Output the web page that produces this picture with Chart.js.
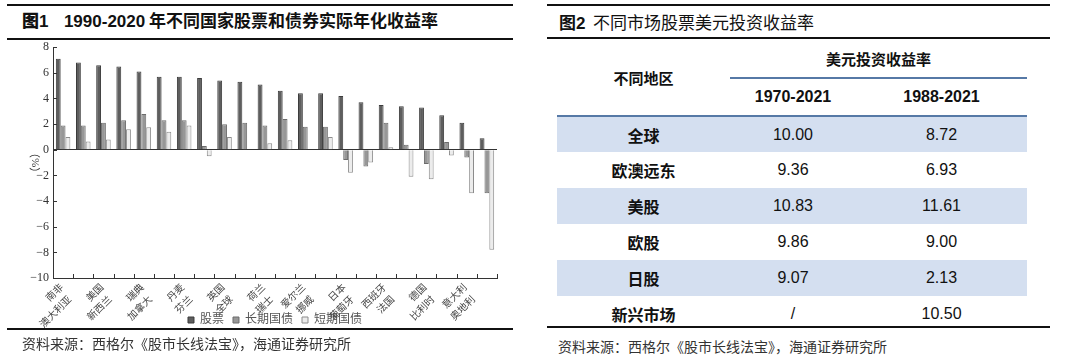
<!DOCTYPE html>
<html>
<head>
<meta charset="utf-8">
<script src="https://cdn.jsdelivr.net/npm/chart.js@4/dist/chart.umd.min.js"></script>
<style>
  body { margin: 0; background: #fff; width: 1080px; height: 361px; overflow: hidden; position: relative;
         font-family: "Noto Sans CJK SC", sans-serif; }
  .rule { position: absolute; height: 2px; background: #111; }
  .title { position: absolute; font-size: 17px; color: #111; white-space: nowrap; line-height: 20px; }
  .title b { font-family: "Liberation Sans", "Noto Sans CJK SC", sans-serif; }
  .src { position: absolute; font-size: 14px; color: #333; white-space: nowrap; line-height: 18px; }
  #chartBox { position: absolute; left: 0; top: 36px; width: 540px; height: 300px; }
  #tbl { position: absolute; left: 557px; top: 40px; width: 470px; border-collapse: collapse; table-layout: fixed; }
  #tbl td { text-align: center; padding: 0; color: #111; }
  #tbl .reg { font-weight: bold; font-size: 16px; font-family: "Noto Sans CJK SC", sans-serif; }
  #tbl .num { font-size: 16px; font-family: "Liberation Sans", Arial, sans-serif; }
  #tbl .shade td { background: #d4dff0; }
</style>
</head>
<body>

<div class="rule" style="left:7px; top:4px; width:506px;"></div>
<div class="title" style="left:22px; top:10px; font-weight:bold;"><b>图1</b>&nbsp;&nbsp;&nbsp;&nbsp;<b>1990-2020</b> 年不同国家股票和债券实际年化收益率</div>
<div class="rule" style="left:7px; top:38px; width:506px;"></div>
<div id="chartBox"><canvas id="leftChart"></canvas></div>
<div class="rule" style="left:7px; top:328px; width:506px;"></div>
<div class="src" style="left:22px; top:334px;">资料来源：西格尔《股市长线法宝》，海通证券研究所</div>

<div class="rule" style="left:547px; top:4px; width:503px;"></div>
<div class="title" style="left:559px; top:12px;"><b>图2</b>&nbsp;&nbsp;不同市场股票美元投资收益率</div>
<div class="rule" style="left:547px; top:37px; width:503px;"></div>
<table id="tbl"></table>
<div class="rule" style="left:547px; top:326px; width:503px;"></div>
<div class="src" style="left:558px; top:337px;">资料来源：西格尔《股市长线法宝》，海通证券研究所</div>

<script>
// figure 1 data
const countries = ['南非', '澳大利亚', '美国', '新西兰', '瑞典', '加拿大', '丹麦', '芬兰', '英国', '全球', '荷兰',
                   '瑞士', '爱尔兰', '挪威', '日本', '葡萄牙', '西班牙', '法国', '德国', '比利时', '意大利', '奥地利'];
const stocks    = [7.1, 6.8, 6.6, 6.5, 6.1, 5.7, 5.7, 5.6, 5.4, 5.3, 5.1, 4.6, 4.4, 4.4, 4.2, 3.7, 3.5, 3.4, 3.3, 2.7, 2.1, 0.9];
const longBonds = [1.9, 1.9, 2.1, 2.3, 2.8, 2.3, 2.3, 0.3, 2.0, 2.1, 1.9, 2.4, 1.8, 1.8, -0.8, -1.3, 2.1, 0.4, -1.1, 0.6, -0.6, -3.4];
const shortBonds= [1.0, 0.65, 0.8, 1.6, 1.75, 1.4, 1.9, -0.5, 1.0, 0, 0.5, 0.75, 0, 1.0, -1.8, -1.0, 0.2, -2.1, -2.3, -0.45, -3.4, -7.8];
const yTicks = [8, 6, 4, 2, 0, -2, -4, -6, -8, -10];

// figure 2 data
const regions = ['全球', '欧澳远东', '美股', '欧股', '日股', '新兴市场'];
const ret1970 = ['10.00', '9.36', '10.83', '9.86', '9.07', '/'];
const ret1988 = ['8.72', '6.93', '11.61', '9.00', '2.13', '10.50'];
const periods = ['1970-2021', '1988-2021'];

const serif = '"Liberation Serif", "Noto Sans CJK SC", serif';

// inward tick marks + staggered 45deg category labels, placed by the x scale
const axisDecor = {
  id: 'axisDecor',
  afterDraw(chart) {
    const {ctx, scales: {x, y}} = chart;
    ctx.save();
    ctx.strokeStyle = '#333';
    ctx.lineWidth = 1;
    ctx.beginPath();
    y.ticks.forEach(t => {
      const py = Math.round(y.getPixelForValue(t.value)) + 0.5;
      ctx.moveTo(x.left, py);
      ctx.lineTo(x.left + 4, py);
    });
    for (let i = 0; i <= countries.length; i++) {
      const px = Math.round(x.getPixelForValue(i - 0.5)) + 0.5;
      ctx.moveTo(px, y.bottom);
      ctx.lineTo(px, y.bottom - 4);
    }
    ctx.stroke();

    ctx.fillStyle = '#444';
    ctx.font = '10px ' + serif;
    ctx.textAlign = 'right';
    ctx.textBaseline = 'middle';
    countries.forEach((c, i) => {
      ctx.save();
      ctx.translate(x.getPixelForValue(i) - 1, y.bottom + 8);
      ctx.rotate(-Math.PI / 4);
      ctx.fillText(c, i % 2 === 0 ? 0 : -17, 0);
      ctx.restore();
    });
    ctx.restore();
  }
};

new Chart(document.getElementById('leftChart'), {
  type: 'bar',
  data: {
    labels: countries,
    datasets: [
      { label: '股票', data: stocks, backgroundColor: '#5e5e5e', borderColor: '#3c3c3c', borderWidth: 1 },
      { label: '长期国债', data: longBonds, backgroundColor: '#979797', borderColor: '#6c6c6c', borderWidth: 1 },
      { label: '短期国债', data: shortBonds, backgroundColor: '#ececec', borderColor: '#8c8c8c', borderWidth: 1 }
    ]
  },
  options: {
    animation: false,
    responsive: true,
    maintainAspectRatio: false,
    layout: { padding: { right: 43, top: 0, bottom: 0 } },
    datasets: { bar: { categoryPercentage: 0.72, barPercentage: 1.0 } },
    scales: {
      x: {
        offset: true,
        grid: { display: false, drawTicks: false },
        border: { display: true, color: '#333' },
        ticks: { display: false },
        afterFit: (scale) => { scale.height = 27; }
      },
      y: {
        min: -10, max: 8,
        afterBuildTicks: (scale) => { scale.ticks = yTicks.map(v => ({ value: v })); },
        afterFit: (scale) => { scale.width = 53; },
        grid: {
          drawTicks: false,
          color: (c) => c.tick && c.tick.value === 0 ? '#333' : 'rgba(0,0,0,0)'
        },
        border: { display: true, color: '#333' },
        ticks: {
          padding: 4,
          font: { family: serif, size: 12 }, color: '#333',
          callback: (v) => v < 0 ? '\u2212' + Math.abs(v) : v
        },
        title: {
          display: true, text: '（%）', color: '#333',
          font: { family: serif, size: 11 },
          padding: { top: 30 }
        }
      }
    },
    plugins: {
      legend: {
        position: 'bottom',
        fullSize: false,
        labels: {
          boxWidth: 6, boxHeight: 6, padding: 9,
          font: { family: serif, size: 12 }, color: '#555'
        }
      },
      tooltip: { enabled: false }
    }
  },
  plugins: [axisDecor]
});

// table of figure 2, built from the arrays
const tbl = document.getElementById('tbl');
let html = '<colgroup><col style="width:173px"><col style="width:126px"><col style="width:171px"></colgroup>';
html += '<tr style="height:38px"><td class="reg" rowspan="2" style="font-size:15px">不同地区</td>' +
        '<td class="reg" colspan="2" style="font-size:15px; border-bottom:2px solid #5679a6">美元投资收益率</td></tr>';
html += '<tr style="height:38px">' + periods.map(p => '<td class="num" style="font-weight:bold">' + p + '</td>').join('') + '</tr>';
regions.forEach((r, i) => {
  const top = i === 0 ? ' style="border-top:2px solid #5679a6"' : '';
  html += '<tr class="' + (i % 2 === 0 ? 'shade' : '') + '" style="height:36px">' +
          '<td class="reg"' + top + '>' + r + '</td>' +
          '<td class="num"' + top + '>' + ret1970[i] + '</td>' +
          '<td class="num"' + top + '>' + ret1988[i] + '</td></tr>';
});
tbl.innerHTML = html;
</script>
</body>
</html>
